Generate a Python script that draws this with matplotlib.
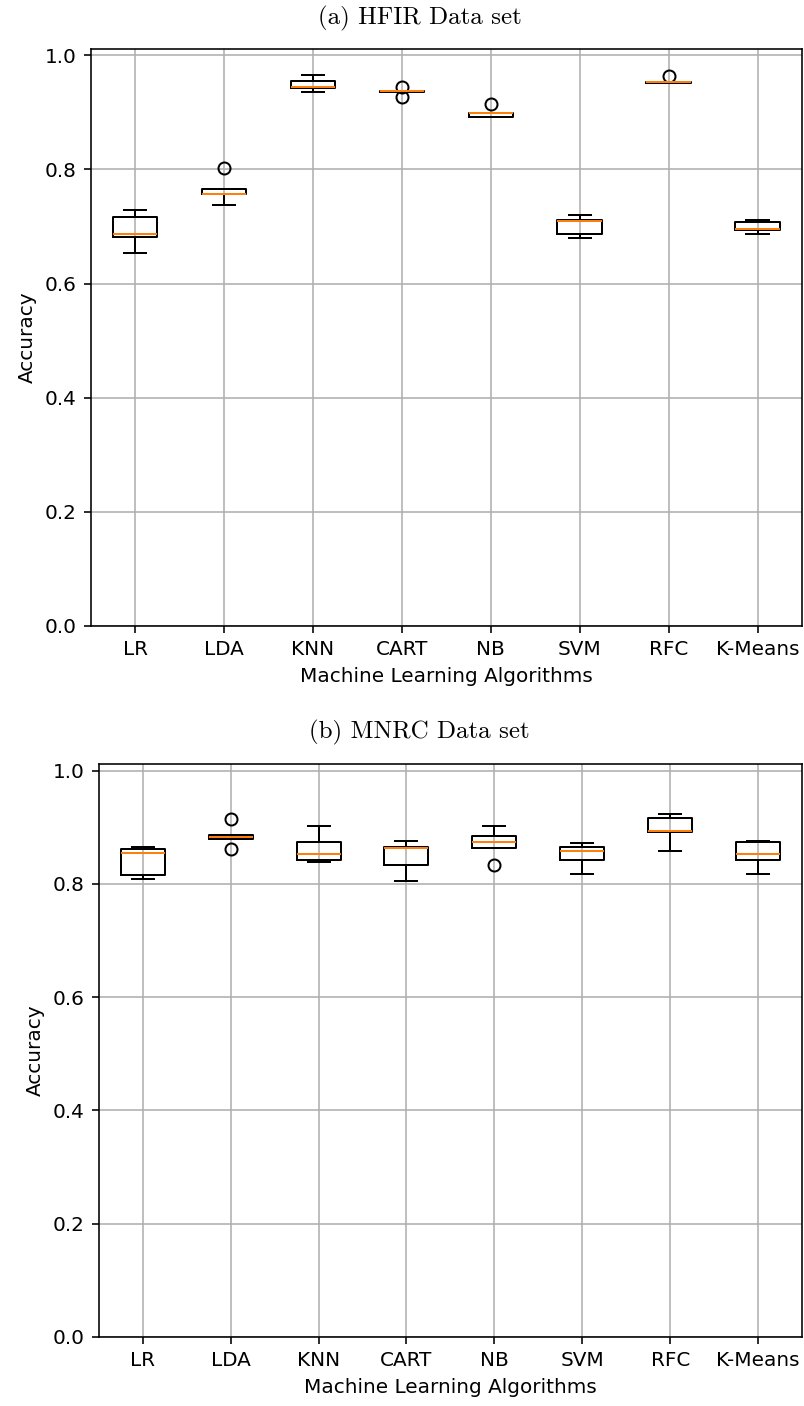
import matplotlib
matplotlib.use("Agg")
import matplotlib.pyplot as plt

# algorithm names on the x axis
algorithms = ["LR", "LDA", "KNN", "CART", "NB", "SVM", "RFC", "K-Means"]

# (a) HFIR data set, box statistics
hfir_whislo = [0.653, 0.738, 0.935, 0.936, 0.891, 0.679, 0.951, 0.686]
hfir_q1 = [0.682, 0.756, 0.942, 0.936, 0.891, 0.686, 0.951, 0.693]
hfir_med = [0.686, 0.757, 0.945, 0.938, 0.898, 0.710, 0.953, 0.696]
hfir_q3 = [0.716, 0.765, 0.954, 0.938, 0.899, 0.712, 0.953, 0.7085]
hfir_whishi = [0.728, 0.765, 0.965, 0.938, 0.899, 0.720, 0.953, 0.712]
hfir_fliers = [[], [0.802], [], [0.945, 0.927], [0.914], [], [0.964], []]

# (b) MNRC data set
mnrc_whislo = [0.809, 0.879, 0.839, 0.805, 0.864, 0.8165, 0.858, 0.8165]
mnrc_q1 = [0.815, 0.879, 0.842, 0.834, 0.864, 0.842, 0.891, 0.842]
mnrc_med = [0.855, 0.883, 0.8535, 0.864, 0.873, 0.858, 0.8935, 0.8535]
mnrc_q3 = [0.862, 0.887, 0.873, 0.865, 0.884, 0.865, 0.917, 0.873]
mnrc_whishi = [0.865, 0.887, 0.902, 0.875, 0.902, 0.872, 0.924, 0.875]
mnrc_fliers = [[], [0.914, 0.861], [], [], [0.834], [], [], []]

captions = ["(a) HFIR Data set", "(b) MNRC Data set"]


def make_stats(whislo, q1, med, q3, whishi, fliers):
    """Build the list of dicts that ax.bxp expects."""
    stats = []
    for i in range(len(med)):
        stats.append(
            {
                "whislo": whislo[i],
                "q1": q1[i],
                "med": med[i],
                "q3": q3[i],
                "whishi": whishi[i],
                "fliers": fliers[i],
            }
        )
    return stats


# picture is an upscaled notebook figure, so draw at 144 dpi
DPI = 144
fig = plt.figure(figsize=(804 / DPI, 1406 / DPI), dpi=DPI)

panels = [
    make_stats(hfir_whislo, hfir_q1, hfir_med, hfir_q3, hfir_whishi, hfir_fliers),
    make_stats(mnrc_whislo, mnrc_q1, mnrc_med, mnrc_q3, mnrc_whishi, mnrc_fliers),
]
# axes rectangles in figure fractions
rects = [
    [0.1128, 0.5548, 0.8847, 0.4104],
    [0.1228, 0.0491, 0.8748, 0.4073],
]
caption_y = [0.9872, 0.4787]

for stats, rect, cap, cy in zip(panels, rects, captions, caption_y):
    ax = fig.add_axes(rect)
    ax.bxp(stats, positions=range(1, len(algorithms) + 1))
    ax.set_xticks(range(1, len(algorithms) + 1))
    ax.set_xticklabels(algorithms)
    ax.set_ylim(0, 1.011)
    ax.set_yticks([0.0, 0.2, 0.4, 0.6, 0.8, 1.0])
    ax.grid(True)
    ax.set_xlabel("Machine Learning Algorithms")
    ax.set_ylabel("Accuracy")
    # latex style sub caption above each panel
    fig.text(0.522, cy, cap, family="cmr10", fontsize=12.5, ha="center", va="center")

fig.savefig("out.png", dpi=DPI)
